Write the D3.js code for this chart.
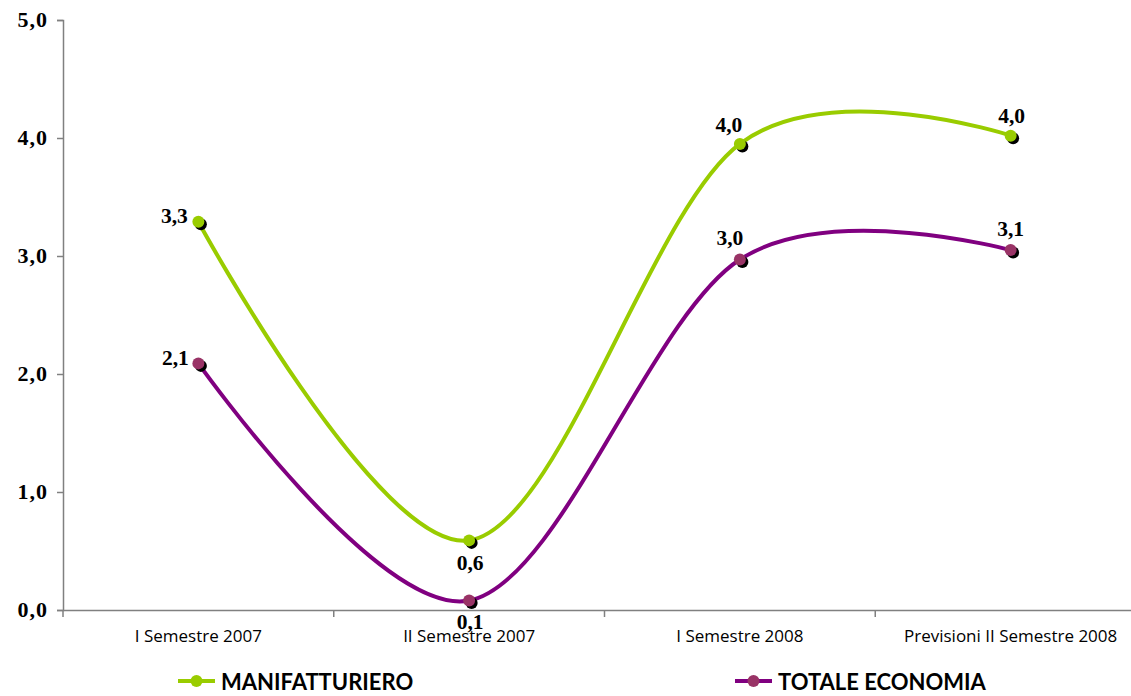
<!DOCTYPE html>
<html><head><meta charset="utf-8">
<script src="https://cdn.jsdelivr.net/npm/d3@7"></script>
<style>body{margin:0;background:#fff}svg{display:block}</style>
</head><body>
<svg id="c" width="1131" height="696"></svg>
<script>
const categories = ["I Semestre 2007","II Semestre 2007","I Semestre 2008","Previsioni II Semestre 2008"];
const manifValues = [3.29, 0.59, 3.95, 4.02];
const manifLabels = ["3,3","0,6","4,0","4,0"];
const totaleValues = [2.09, 0.08, 2.97, 3.05];
const totaleLabels = ["2,1","0,1","3,0","3,1"];
const yTicks = [0,1,2,3,4,5];
const seriesNames = ["MANIFATTURIERO","TOTALE ECONOMIA"];

(function(){
const svg = d3.select("#c");
const pLeft = 63, pRight = 1146, pTop = 20, pBottom = 610;
const x = d3.scaleBand().domain(categories).range([pLeft, pRight]);
const y = d3.scaleLinear().domain([0,5]).range([pBottom, pTop]);
const axisColor = "#808080";

// y axis
const ya = svg.append("g").attr("transform",`translate(${pLeft},0)`)
  .call(d3.axisLeft(y).tickValues(yTicks).tickSize(6).tickFormat(d=>d3.format(".1f")(d).replace(".",",")));
ya.select(".domain").attr("stroke",axisColor).attr("stroke-width",1.5);
ya.selectAll(".tick line").attr("stroke",axisColor).attr("stroke-width",1.5);
ya.selectAll(".tick text").attr("font-family","'Liberation Serif', serif").attr("font-weight","bold")
  .attr("font-size",22).attr("fill","#000").attr("x",-15).attr("dy","0.3em").attr("letter-spacing",1);

// x axis
const xa = svg.append("g").attr("transform",`translate(0,${pBottom})`)
  .call(d3.axisBottom(x).tickSize(0).tickSizeOuter(0));
xa.select(".domain").attr("stroke",axisColor).attr("stroke-width",1.5);
xa.selectAll(".tick text").attr("font-family","'Open Sans', sans-serif").attr("font-size",17)
  .attr("fill","#000").attr("dy","1.7em");
// category separators
svg.append("g").selectAll("line").data(categories).join("line")
  .attr("x1",d=>x(d)).attr("x2",d=>x(d)).attr("y1",pBottom).attr("y2",pBottom+7)
  .attr("stroke",axisColor).attr("stroke-width",1.5);

const line = d3.line().x((d,i)=>x(categories[i])+x.bandwidth()/2).y(d=>y(d)).curve(d3.curveCardinal.tension(0));

const series = [
  {vals: manifValues, labels: manifLabels, stroke:"#99CC00", fill:"#99CC00", name: seriesNames[0]},
  {vals: totaleValues, labels: totaleLabels, stroke:"#800080", fill:"#993366", name: seriesNames[1]}
];
const labelOffsets = [
  [[-24,1],[1,30],[-11,-12],[1,-13]],
  [[-23,2],[1,28],[-10,-15],[0,-14]]
];

series.forEach((s,si)=>{
  svg.append("path").datum(s.vals).attr("d",line).attr("fill","none")
    .attr("stroke",s.stroke).attr("stroke-width",4);
  const g = svg.append("g");
  g.selectAll("circle.sh").data(s.vals).join("circle").attr("class","sh")
    .attr("cx",(d,i)=>x(categories[i])+x.bandwidth()/2+2.5).attr("cy",d=>y(d)+2.5).attr("r",6).attr("fill","#000");
  g.selectAll("circle.mk").data(s.vals).join("circle").attr("class","mk")
    .attr("cx",(d,i)=>x(categories[i])+x.bandwidth()/2).attr("cy",d=>y(d)).attr("r",6).attr("fill",s.fill);
  g.selectAll("text").data(s.vals).join("text")
    .attr("x",(d,i)=>x(categories[i])+x.bandwidth()/2+labelOffsets[si][i][0])
    .attr("y",(d,i)=>y(d)+labelOffsets[si][i][1])
    .attr("text-anchor","middle")
    .attr("font-family","'Liberation Serif', serif").attr("font-weight","bold").attr("font-size",21.5)
    .text((d,i)=>s.labels[i]);
});

// legend
const legendX = [178, 735];
series.forEach((s,i)=>{
  const lg = svg.append("g").attr("transform",`translate(${legendX[i]},681)`);
  lg.append("line").attr("x1",0).attr("x2",37).attr("y1",0).attr("y2",0).attr("stroke",s.stroke).attr("stroke-width",4);
  lg.append("circle").attr("cx",18.5).attr("cy",0).attr("r",6).attr("fill",s.fill);
  lg.append("text").attr("x",43).attr("y",8.5).attr("font-family","Lato, sans-serif").attr("font-weight","bold")
    .attr("font-size",22).attr("fill","#000").text(s.name);
});
})();
</script>
</body></html>
